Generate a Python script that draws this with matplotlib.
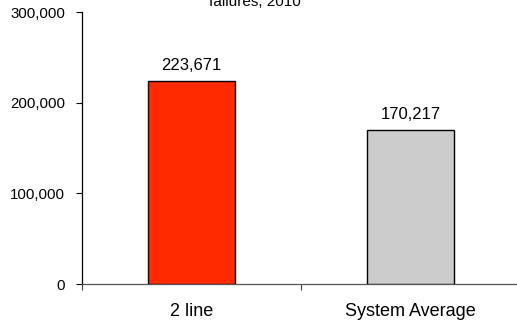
import matplotlib
matplotlib.use("Agg")
import matplotlib.pyplot as plt
from matplotlib.ticker import FuncFormatter, FixedLocator

plt.rcParams['font.family'] = ['Liberation Sans', 'DejaVu Sans']

categories = ["2 line", "System Average"]
values = [223671, 170217]
colors = ["#ff2a00", "#cccccc"]
yticks = [0, 100000, 200000, 300000]

fig = plt.figure(figsize=(5.17, 3.22), dpi=100)
ax = fig.add_axes([82/517, 1 - 284/322, 438/517, 272/322])

x = list(range(len(categories)))
bars = ax.bar(x, values, width=0.4, color=colors, edgecolor="black", linewidth=1.0, zorder=3)
for xi, v in zip(x, values):
    ax.text(xi, v + 9000, f"{v:,}", ha="center", va="bottom", fontsize=12)

ax.set_xlim(-0.5, len(categories) - 0.5)
ax.set_ylim(0, 300000)
ax.set_yticks(yticks)
ax.yaxis.set_major_formatter(FuncFormatter(lambda v, p: f"{int(v):,}"))
ax.tick_params(axis="y", labelsize=10.8, length=4.5, direction="out", width=0.8, pad=7.5)

ax.xaxis.set_major_locator(FixedLocator([-0.5, 0.5, 1.5]))
ax.set_xticklabels([])
ax.xaxis.set_minor_locator(FixedLocator(x))
ax.set_xticklabels(categories, minor=True)
ax.tick_params(axis="x", which="major", length=4, direction="out", color="#444444")
ax.tick_params(axis="x", which="minor", length=0, labelsize=13, pad=14)

for s in ["top", "right"]:
    ax.spines[s].set_visible(False)
ax.spines["left"].set_color("black")
ax.spines["left"].set_linewidth(0.9)
ax.spines["bottom"].set_color("#555555")
ax.spines["bottom"].set_linewidth(0.9)

fig.text(255/517, 1 - 6/322, "failures, 2010", ha="center", va="baseline", fontsize=11)

fig.savefig("out.png", dpi=100)
